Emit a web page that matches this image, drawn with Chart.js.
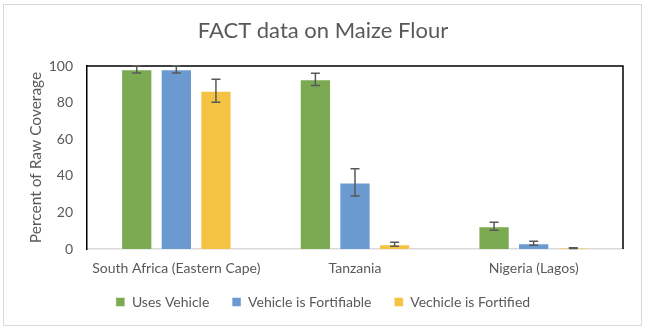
<!DOCTYPE html>
<html>
<head>
<meta charset="utf-8">
<script src="https://cdn.jsdelivr.net/npm/chart.js@4/dist/chart.umd.min.js"></script>
<style>
  body { margin: 0; background: #fff; }
  #wrap { position: relative; width: 646px; height: 331px; }
</style>
</head>
<body>
<div id="wrap"><canvas id="maizeChart" width="646" height="331"></canvas></div>
<script>
const categories = ['South Africa (Eastern Cape)', 'Tanzania', 'Nigeria (Lagos)'];
const usesVehicle = [98.2, 92.7, 12.4];
const usesVehicleErr = [2.0, 3.3, 2.2];
const fortifiable = [98.2, 36.4, 3.1];
const fortifiableErr = [2.0, 7.4, 1.1];
const fortified = [86.5, 2.6, 0.5];
const fortifiedErr = [6.3, 1.1, 0.2];
const yTicks = [0, 20, 40, 60, 80, 100];

const textColor = '#595959';
const fontFamily = 'Lato, "Open Sans", sans-serif';

// error bars + outer frame + plot frame (top/right lines)
const extrasPlugin = {
  id: 'extras',
  beforeDraw(chart) {
    const ctx = chart.ctx;
    ctx.save();
    ctx.fillStyle = '#fff';
    ctx.fillRect(0, 0, chart.width, chart.height);
    ctx.strokeStyle = '#d9d9d9';
    ctx.lineWidth = 1;
    ctx.strokeRect(3.5, 4.5, 638, 321);
    ctx.restore();
  },
  afterDatasetsDraw(chart) {
    const ctx = chart.ctx;
    const y = chart.scales.y;
    const a = chart.chartArea;
    ctx.save();
    ctx.strokeStyle = '#000';
    ctx.lineWidth = 1.5;
    ctx.beginPath();
    ctx.moveTo(a.left, a.top);
    ctx.lineTo(a.right, a.top);
    ctx.lineTo(a.right, a.bottom);
    ctx.stroke();

    ctx.strokeStyle = '#595959';
    ctx.lineWidth = 1.5;
    chart.data.datasets.forEach((ds, i) => {
      const meta = chart.getDatasetMeta(i);
      meta.data.forEach((bar, j) => {
        const v = ds.data[j];
        const e = ds.errors[j];
        const top = y.getPixelForValue(v + e);
        const bot = y.getPixelForValue(Math.max(v - e, 0));
        const x = bar.x;
        ctx.beginPath();
        ctx.moveTo(x, top); ctx.lineTo(x, bot);
        ctx.moveTo(x - 4.5, top); ctx.lineTo(x + 4.5, top);
        ctx.moveTo(x - 4.5, bot); ctx.lineTo(x + 4.5, bot);
        ctx.stroke();
      });
    });
    ctx.restore();
  }
};

new Chart(document.getElementById('maizeChart').getContext('2d'), {
  type: 'bar',
  data: {
    labels: categories,
    datasets: [
      { label: 'Uses Vehicle', data: usesVehicle, errors: usesVehicleErr,
        backgroundColor: '#7BAA52', borderColor: 'rgba(255,255,255,0.5)', borderWidth: 1 },
      { label: 'Vehicle is Fortifiable', data: fortifiable, errors: fortifiableErr,
        backgroundColor: '#6A9AD0', borderColor: 'rgba(255,255,255,0.5)', borderWidth: 1 },
      { label: 'Vechicle is Fortified', data: fortified, errors: fortifiedErr,
        backgroundColor: '#F5C343', borderColor: 'rgba(255,255,255,0.5)', borderWidth: 1 }
    ]
  },
  options: {
    responsive: false,
    animation: false,
    events: [],
    categoryPercentage: 0.665,
    barPercentage: 0.79,
    layout: { padding: { left: 0, right: 0, top: 0, bottom: 12 } },
    plugins: {
      title: {
        display: true,
        text: 'FACT data on Maize Flour',
        color: textColor,
        font: { family: fontFamily, size: 22, weight: 'normal' },
        padding: { top: 18, bottom: 21.6 }
      },
      legend: {
        position: 'bottom',
        labels: {
          color: textColor,
          font: { family: fontFamily, size: 14 },
          boxWidth: 9,
          boxHeight: 9,
          padding: 12,
          generateLabels(chart) {
            const items = Chart.defaults.plugins.legend.labels.generateLabels(chart);
            // wider gaps between entries, like the original
            items.forEach((it, i) => { if (i < items.length - 1) it.text += '   '; });
            return items;
          }
        }
      },
      tooltip: { enabled: false }
    },
    scales: {
      x: {
        grid: { display: false },
        border: { display: true, color: '#d9d9d9', width: 1.5 },
        ticks: { color: textColor, font: { family: fontFamily, size: 14 }, padding: 3, maxRotation: 0 },
        afterFit(scale) { scale.height = 34; }
      },
      y: {
        min: 0,
        max: 100,
        afterBuildTicks(scale) { scale.ticks = yTicks.map(v => ({ value: v })); },
        grid: { display: false },
        border: { display: true, color: '#000', width: 1.5 },
        ticks: { color: textColor, font: { family: fontFamily, size: 14 }, padding: 6 },
        title: {
          display: true,
          text: 'Percent of Raw Coverage',
          color: textColor,
          font: { family: fontFamily, size: 15.5 },
          padding: { top: 27, bottom: 0 }
        },
        afterFit(scale) { scale.width = 87; }
      },
      // empty right-hand axis, only reserves the margin right of the plot
      yRight: {
        position: 'right',
        min: 0,
        max: 100,
        grid: { display: false },
        border: { display: false },
        ticks: { display: false },
        afterFit(scale) { scale.width = 23; }
      }
    }
  },
  plugins: [extrasPlugin]
});
</script>
</body>
</html>
